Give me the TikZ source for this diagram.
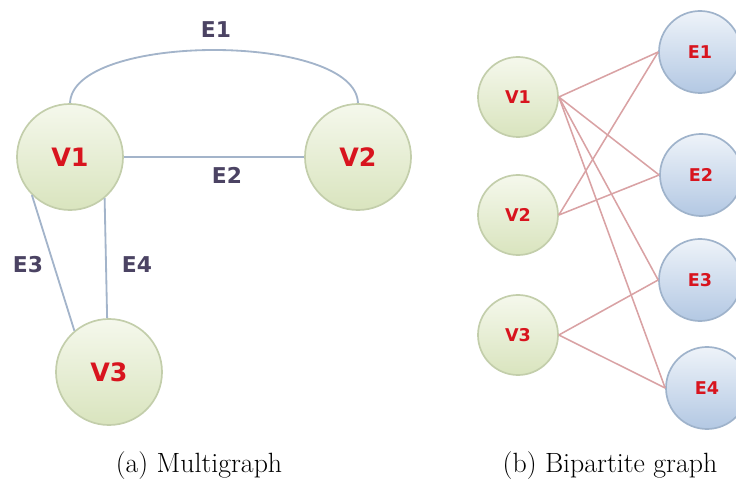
\documentclass[tikz,border=0pt]{standalone}
\usepackage{fontspec}
\newfontfamily\lblfont{DejaVu Sans}
\definecolor{nodered}{HTML}{D8141E}
\definecolor{edgelbl}{HTML}{4B4363}
\definecolor{gtop}{HTML}{F5F8EC}
\definecolor{gbot}{HTML}{D9E4BE}
\definecolor{gborder}{HTML}{C3CEAB}
\definecolor{btop}{HTML}{EEF3F9}
\definecolor{bbot}{HTML}{B3C8E3}
\definecolor{bborder}{HTML}{9FB3CB}
\definecolor{bluedge}{HTML}{A3B4CA}
\definecolor{pinkedge}{HTML}{D9A2A4}
\tikzset{
  gnode/.style={circle, draw=gborder, line width=1.2pt, top color=gtop, bottom color=gbot, text=nodered, font=\lblfont\bfseries},
  bnode/.style={circle, draw=bborder, line width=1.2pt, top color=btop, bottom color=bbot, text=nodered, font=\lblfont\bfseries},
  bigv/.style={gnode, minimum size=2.65cm, font=\lblfont\bfseries\fontsize{18}{20}\selectfont},
  smallv/.style={gnode, minimum size=2.0cm, font=\lblfont\bfseries\fontsize{12.5}{14}\selectfont},
  smalle/.style={bnode, minimum size=2.05cm, font=\lblfont\bfseries\fontsize{12.5}{14}\selectfont},
  medge/.style={draw=bluedge, line width=1.3pt},
  bedge/.style={draw=pinkedge, line width=1.1pt},
  elbl/.style={text=edgelbl, font=\lblfont\bfseries\fontsize{15.5}{17}\selectfont},
  capt/.style={font=\fontsize{19.8}{22}\selectfont}
}
\begin{document}
\begin{tikzpicture}[x=0.025cm, y=-0.025cm]
\useasboundingbox (0,0) rectangle (736,484);
\clip (0,0) rectangle (736,484);
% (a) Multigraph
\draw[medge] (70,104) .. controls (70,32) and (358,32) .. (358,104);
\node[bigv] (v1) at (70,157) {V1};
\node[bigv] (v2) at (358,157) {V2};
\node[bigv] (v3) at (109,372) {V3};
\draw[medge] (v1) -- (v2);
\draw[medge] (v1.225) -- (v3.130);
\draw[medge] (v1.-50) -- (v3.92);
\node[elbl] (le1) at (216,30) {E1};
\node[elbl] (le2) at (227,175) {E2};
\node[elbl] (le3) at (28,265) {E3};
\node[elbl] (le4) at (137,265) {E4};
% (b) Bipartite graph
\node[smallv] (bv1) at (518,97) {V1};
\node[smallv] (bv2) at (518,215) {V2};
\node[smallv] (bv3) at (518,335) {V3};
\node[smalle] (be1) at (700,52) {E1};
\node[smalle] (be2) at (701,175) {E2};
\node[smalle] (be3) at (700,280) {E3};
\node[smalle] (be4) at (707,388) {E4};
\draw[bedge] (bv1.east) -- (be1.west);
\draw[bedge] (bv1.east) -- (be2.west);
\draw[bedge] (bv1.east) -- (be3.west);
\draw[bedge] (bv1.east) -- (be4.west);
\draw[bedge] (bv2.east) -- (be1.west);
\draw[bedge] (bv2.east) -- (be2.west);
\draw[bedge] (bv3.east) -- (be3.west);
\draw[bedge] (bv3.east) -- (be4.west);
% captions
\node[capt] (ca) at (199,466) {(a) Multigraph};
\node[capt] (cb) at (610,466) {(b) Bipartite graph};
\end{tikzpicture}
\end{document}
